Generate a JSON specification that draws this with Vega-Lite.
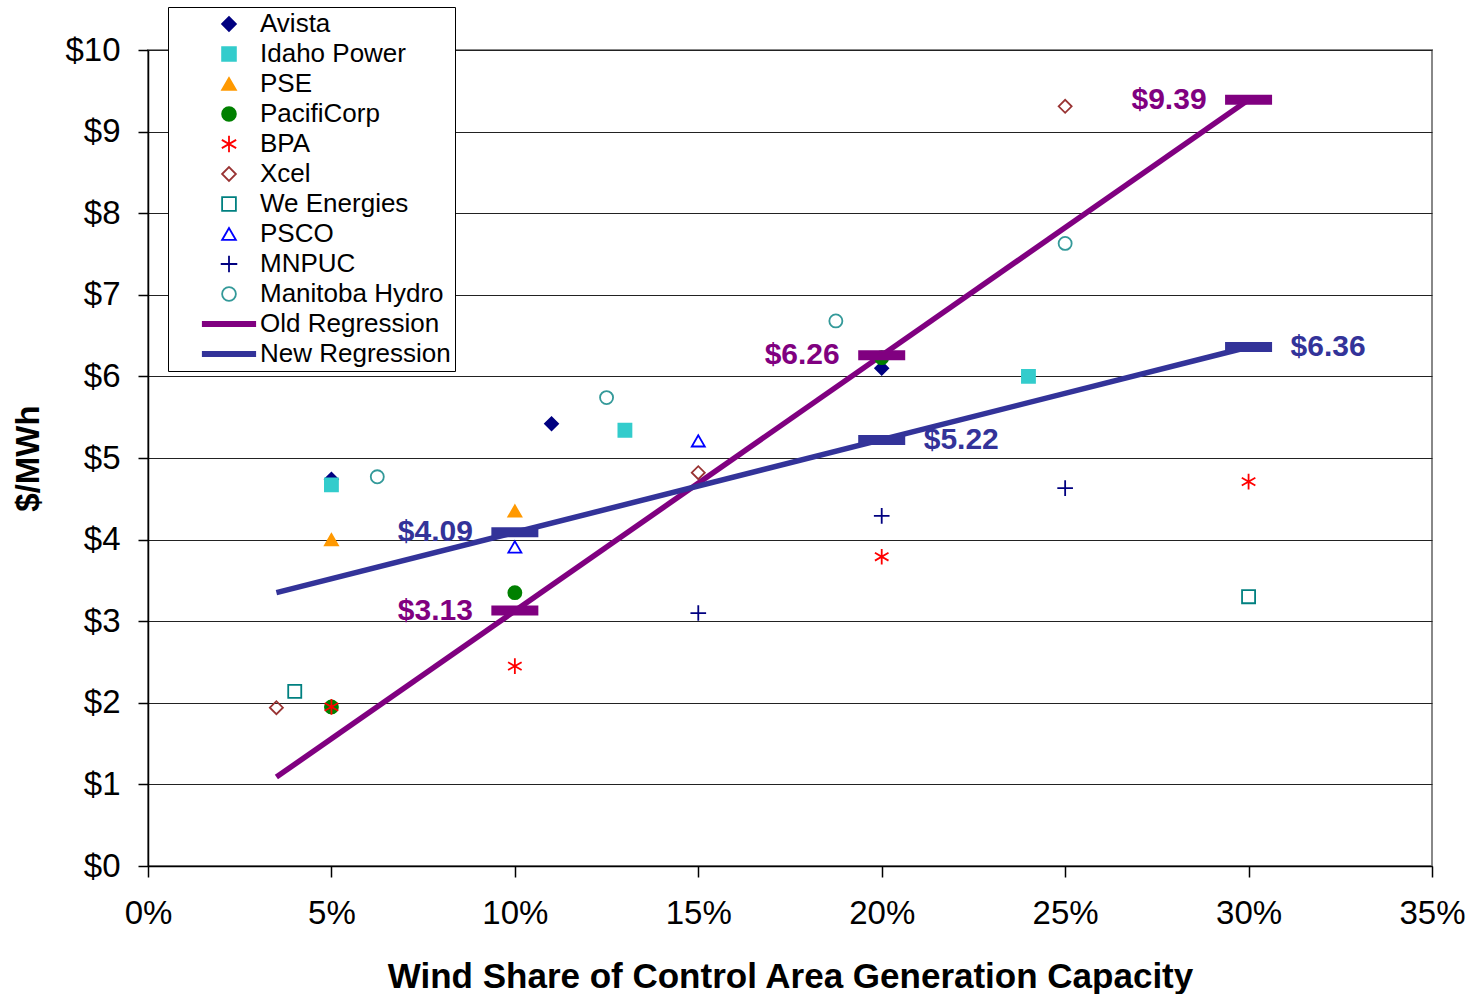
{
  "$schema": "https://vega.github.io/schema/vega-lite/v6.json",
  "width": 1284,
  "height": 816,
  "autosize": {"type": "none"},
  "padding": {"left": 148, "top": 50, "right": 40, "bottom": 128},
  "background": "white",
  "config": {
    "font": "Liberation Sans",
    "view": {"stroke": "#888888", "strokeWidth": 2},
    "axis": {
      "labelFont": "Liberation Sans",
      "titleFont": "Liberation Sans",
      "labelColor": "#000000",
      "titleColor": "#000000",
      "domainColor": "#000000",
      "tickColor": "#000000",
      "domainWidth": 1.5,
      "tickWidth": 1.5
    },
    "legend": {
      "labelFont": "Liberation Sans"
    }
  },
  "datasets": {
    "points": [
      {"company": "Avista", "share": 0.05, "cost": 4.74},
      {"company": "Avista", "share": 0.11, "cost": 5.42},
      {"company": "Avista", "share": 0.20, "cost": 6.10},
      {"company": "Idaho Power", "share": 0.05, "cost": 4.67},
      {"company": "Idaho Power", "share": 0.13, "cost": 5.34},
      {"company": "Idaho Power", "share": 0.24, "cost": 6.00},
      {"company": "PSE", "share": 0.05, "cost": 4.00},
      {"company": "PSE", "share": 0.10, "cost": 4.35},
      {"company": "PacifiCorp", "share": 0.05, "cost": 1.95},
      {"company": "PacifiCorp", "share": 0.10, "cost": 3.35},
      {"company": "PacifiCorp", "share": 0.20, "cost": 6.23},
      {"company": "BPA", "share": 0.05, "cost": 1.95},
      {"company": "BPA", "share": 0.10, "cost": 2.45},
      {"company": "BPA", "share": 0.20, "cost": 3.79},
      {"company": "BPA", "share": 0.30, "cost": 4.71},
      {"company": "Xcel", "share": 0.035, "cost": 1.94},
      {"company": "Xcel", "share": 0.15, "cost": 4.82},
      {"company": "Xcel", "share": 0.25, "cost": 9.31},
      {"company": "We Energies", "share": 0.04, "cost": 2.14},
      {"company": "We Energies", "share": 0.30, "cost": 3.30},
      {"company": "PSCO", "share": 0.10, "cost": 3.91},
      {"company": "PSCO", "share": 0.15, "cost": 5.21},
      {"company": "MNPUC", "share": 0.15, "cost": 3.10},
      {"company": "MNPUC", "share": 0.20, "cost": 4.29},
      {"company": "MNPUC", "share": 0.25, "cost": 4.63},
      {"company": "Manitoba Hydro", "share": 0.0625, "cost": 4.77},
      {"company": "Manitoba Hydro", "share": 0.125, "cost": 5.74},
      {"company": "Manitoba Hydro", "share": 0.1875, "cost": 6.68},
      {"company": "Manitoba Hydro", "share": 0.25, "cost": 7.63}
    ],
    "lines": [
      {"series": "Old Regression", "share": 0.035, "cost": 1.09},
      {"series": "Old Regression", "share": 0.30, "cost": 9.39},
      {"series": "New Regression", "share": 0.035, "cost": 3.35},
      {"series": "New Regression", "share": 0.30, "cost": 6.36}
    ],
    "marks": [
      {"series": "Old Regression", "share": 0.10, "cost": 3.13},
      {"series": "Old Regression", "share": 0.20, "cost": 6.26},
      {"series": "Old Regression", "share": 0.30, "cost": 9.39},
      {"series": "New Regression", "share": 0.10, "cost": 4.09},
      {"series": "New Regression", "share": 0.20, "cost": 5.22},
      {"series": "New Regression", "share": 0.30, "cost": 6.36}
    ]
  },
  "encoding": {
    "x": {
      "field": "share",
      "type": "quantitative",
      "scale": {"domain": [0, 0.35], "nice": false, "zero": false},
      "axis": {
        "values": [0, 0.05, 0.1, 0.15, 0.2, 0.25, 0.3, 0.35],
        "format": ".0%",
        "grid": false,
        "labelFlush": false,
        "labelBound": false,
        "labelOverlap": false,
        "labelFontSize": 33,
        "labelPadding": 20,
        "tickSize": 11,
        "title": "Wind Share of Control Area Generation Capacity",
        "titleFontSize": 35,
        "titleFontWeight": "bold",
        "titleBaseline": "middle",
        "titleY": 110
      }
    },
    "y": {
      "field": "cost",
      "type": "quantitative",
      "scale": {"domain": [0, 10], "nice": false},
      "axis": {
        "values": [0, 1, 2, 3, 4, 5, 6, 7, 8, 9, 10],
        "format": "$.0f",
        "grid": true,
        "gridColor": "#222222",
        "gridWidth": 1.2,
        "labelFontSize": 33,
        "labelPadding": 18,
        "tickSize": 10,
        "title": "$/MWh",
        "titleFontSize": 33,
        "titleFontWeight": "bold",
        "titleBaseline": "middle",
        "titleX": -120,
        "titleY": 408
      }
    }
  },
  "layer": [
    {
      "data": {"name": "lines"},
      "mark": {"type": "line", "strokeWidth": 5.5},
      "encoding": {
        "color": {
          "field": "series",
          "type": "nominal",
          "scale": {"domain": ["Old Regression", "New Regression"], "range": ["#800080", "#333399"]},
          "legend": null
        }
      }
    },
    {
      "data": {"name": "points"},
      "mark": {"type": "point", "size": 170, "strokeWidth": 1.8, "opacity": 1},
      "encoding": {
        "shape": {
          "field": "company",
          "type": "nominal",
          "scale": {
            "domain": ["Avista", "Idaho Power", "PSE", "PacifiCorp", "BPA", "Xcel", "We Energies", "PSCO", "MNPUC", "Manitoba Hydro", "Old Regression", "New Regression"],
            "range": ["diamond", "square", "triangle-up", "circle", "M0,-1.2V1.2M-1.04,-0.6L1.04,0.6M-1.04,0.6L1.04,-0.6", "diamond", "square", "triangle-up", "M-1.2,0H1.2M0,-1.2V1.2", "circle", "M-3.8,-0.3H3.8V0.3H-3.8Z", "M-3.8,-0.3H3.8V0.3H-3.8Z"]
          },
          "legend": {
            "title": null,
            "orient": "none",
            "legendX": 20,
            "legendY": -43,
            "labelFontSize": 26,
            "labelColor": "#000000",
            "labelLimit": 500,
            "symbolSize": 190,
            "symbolStrokeWidth": 1.8,
            "symbolOffset": 44,
            "labelOffset": 18,
            "rowPadding": 4,
            "padding": 4,
            "strokeColor": "#000000",
            "fillColor": "#ffffff"
          }
        },
        "fill": {
          "field": "company",
          "type": "nominal",
          "scale": {
            "domain": ["Avista", "Idaho Power", "PSE", "PacifiCorp", "BPA", "Xcel", "We Energies", "PSCO", "MNPUC", "Manitoba Hydro", "Old Regression", "New Regression"],
            "range": ["#000080", "#33CCCC", "#FF9900", "#008000", "transparent", "transparent", "transparent", "transparent", "transparent", "transparent", "#800080", "#333399"]
          },
          "legend": {
            "title": null,
            "orient": "none",
            "legendX": 20,
            "legendY": -43,
            "labelFontSize": 26,
            "labelColor": "#000000",
            "labelLimit": 500,
            "symbolSize": 190,
            "symbolStrokeWidth": 1.8,
            "symbolOffset": 44,
            "labelOffset": 18,
            "rowPadding": 4,
            "padding": 4,
            "strokeColor": "#000000",
            "fillColor": "#ffffff"
          }
        },
        "stroke": {
          "field": "company",
          "type": "nominal",
          "scale": {
            "domain": ["Avista", "Idaho Power", "PSE", "PacifiCorp", "BPA", "Xcel", "We Energies", "PSCO", "MNPUC", "Manitoba Hydro", "Old Regression", "New Regression"],
            "range": ["#000080", "#33CCCC", "#FF9900", "#008000", "#FF0000", "#993333", "#008080", "#0000FF", "#000080", "#339999", "#800080", "#333399"]
          },
          "legend": {
            "title": null,
            "orient": "none",
            "legendX": 20,
            "legendY": -43,
            "labelFontSize": 26,
            "labelColor": "#000000",
            "labelLimit": 500,
            "symbolSize": 190,
            "symbolStrokeWidth": 1.8,
            "symbolOffset": 44,
            "labelOffset": 18,
            "rowPadding": 4,
            "padding": 4,
            "strokeColor": "#000000",
            "fillColor": "#ffffff"
          }
        }
      }
    },
    {
      "data": {"name": "marks"},
      "mark": {"type": "tick", "orient": "horizontal", "size": 47, "thickness": 10, "opacity": 1},
      "encoding": {
        "color": {"field": "series", "type": "nominal", "legend": null}
      }
    },
    {
      "data": {"name": "marks"},
      "transform": [{"filter": "datum.series == 'Old Regression' || datum.share < 0.15"}],
      "mark": {"type": "text", "align": "right", "baseline": "middle", "dx": -42, "fontSize": 30, "fontWeight": "bold", "font": "Liberation Sans"},
      "encoding": {
        "text": {"field": "cost", "type": "quantitative", "format": "$.2f"},
        "color": {"field": "series", "type": "nominal", "legend": null}
      }
    },
    {
      "data": {"name": "marks"},
      "transform": [{"filter": "datum.series == 'New Regression' && datum.share > 0.15"}],
      "mark": {"type": "text", "align": "left", "baseline": "middle", "dx": 42, "fontSize": 30, "fontWeight": "bold", "font": "Liberation Sans"},
      "encoding": {
        "text": {"field": "cost", "type": "quantitative", "format": "$.2f"},
        "color": {"field": "series", "type": "nominal", "legend": null}
      }
    }
  ]
}
